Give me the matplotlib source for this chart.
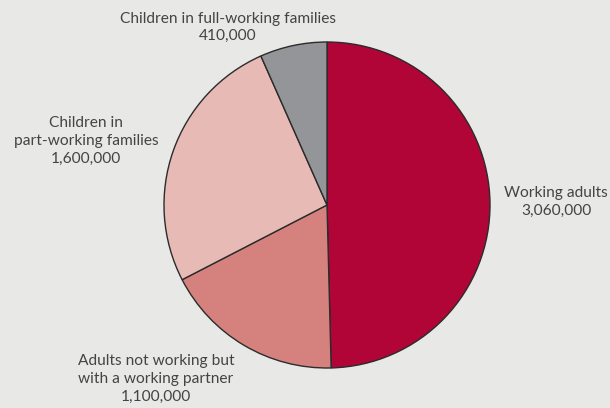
import matplotlib.pyplot as plt

labels = ["Working adults", "Adults not working but\nwith a working partner",
          "Children in\npart-working families", "Children in full-working families"]
values = [3060000, 1100000, 1600000, 410000]
colors = ["#b10537", "#d5827f", "#e8bab6", "#939598"]
# label centres in pie-radius units
label_pos = [(1.405, 0.018), (-1.049, -1.067), (-1.479, 0.393), (-0.607, 1.089)]

plt.rcParams['font.family'] = ['Lato', 'DejaVu Sans']
bg = "#e8e9e7"

fig = plt.figure(figsize=(6.1, 4.08), dpi=100, facecolor=bg)
ax = fig.add_axes([0, 0, 1, 1])
ax.set_facecolor(bg)

ax.pie(values, colors=colors, startangle=90, counterclock=False,
       wedgeprops=dict(edgecolor="#2b2b2b", linewidth=1.0))

for lab, val, (x, y) in zip(labels, values, label_pos):
    ax.text(x, y, f"{lab}\n{val:,}", ha="center", va="center",
            fontsize=11.2, color="#444444", linespacing=1.33)

r = 163.0
ax.set_xlim(-327 / r, (610 - 327) / r)
ax.set_ylim(-(408 - 205) / r, 205 / r)
ax.set_aspect("equal")
ax.axis("off")

fig.savefig("out.png", dpi=100, facecolor=bg)
